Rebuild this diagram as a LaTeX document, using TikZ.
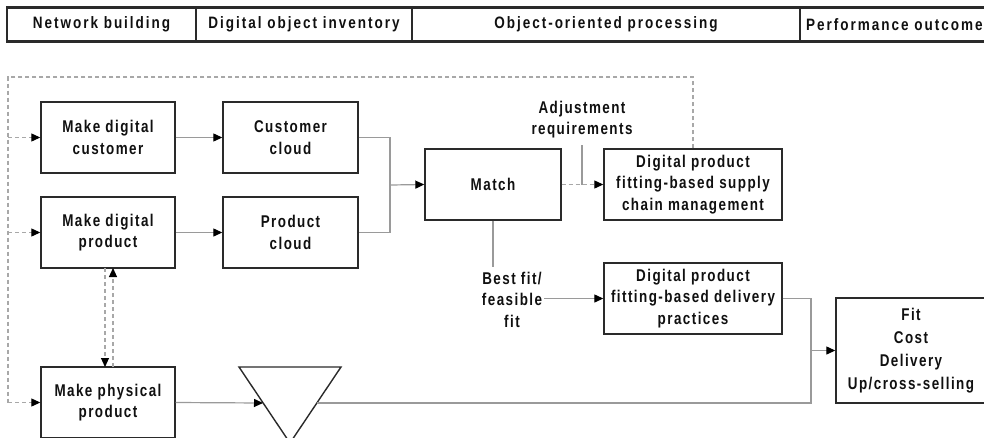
\documentclass[tikz,border=0pt]{standalone}
\usepackage{fontspec}
\newfontfamily\diag[FakeStretch=0.79,LetterSpace=8.5]{Liberation Sans}
\newfontfamily\diagh[FakeStretch=0.82,LetterSpace=12]{Liberation Sans}
\usetikzlibrary{arrows.meta}
\definecolor{boxc}{HTML}{2A2A2A}
\definecolor{connc}{HTML}{9A9A9A}
\definecolor{dashc}{HTML}{A8A8A8}
\definecolor{txtc}{HTML}{101010}
\begin{document}
\begin{tikzpicture}[x=1pt,y=-1pt,
  every node/.style={font=\diag\bfseries\fontsize{17}{21.5}\selectfont,text=txtc},
  blk/.style={draw=boxc,line width=1.4pt,align=center,inner sep=0pt,minimum width=134pt,minimum height=71pt},
  lbl/.style={align=center,inner sep=0pt},
  hlbl/.style={inner sep=0pt,font=\diagh\bfseries\fontsize{16.5}{20}\selectfont},
  conn/.style={draw=connc,line width=1.2pt},
  dsh/.style={draw=dashc,line width=1.1pt,dash pattern=on 4pt off 3pt},
  arr/.style={-{Triangle[length=9pt,width=8pt,color=black]}},
  hdr/.style={draw=boxc,line width=2.2pt},
  hdiv/.style={draw=boxc,line width=1.3pt}]
\useasboundingbox (0,0) rectangle (984,437);
% header
\draw[hdr] (990,7.5) -- (7,7.5) -- (7,41.5) -- (990,41.5);
\draw[hdiv] (196,7.5) -- (196,41.5) (412,7.5) -- (412,41.5) (800,7.5) -- (800,41.5);
\node[hlbl] (h1) at (101.5,24.5) {Network building};
\node[hlbl] (h2) at (304,24.5) {Digital object inventory};
\node[hlbl] (h3) at (606,24.5) {Object-oriented processing};
\node[hlbl,anchor=west] (h4) at (806,24.5) {Performance outcome};
% boxes
\node[blk] (mdc) at (108,137.5) {Make digital\\customer};
\node[blk,minimum width=135pt] (cc) at (290.5,137.5) {Customer\\cloud};
\node[blk] (mdp) at (108,232.5) {Make digital\\product};
\node[blk,minimum width=135pt] (pc) at (290.5,232.5) {Product\\cloud};
\node[blk,minimum width=136pt] (match) at (493,184.5) {Match};
\node[blk,minimum width=178pt] (scm) at (693,184.5) {Digital product\\fitting-based supply\\chain management};
\node[blk,minimum width=178pt] (del) at (693,298.5) {Digital product\\fitting-based delivery\\practices};
\node[blk,minimum width=150pt,minimum height=105pt] (out) at (911,350.5) {Fit\\[1.5pt]Cost\\[1.5pt]Delivery\\[1.5pt]Up/cross-selling};
\node[blk] (mpp) at (108,402.5) {Make physical\\product};
% inventory triangle
\draw[draw=boxc,line width=1.4pt] (239,367) -- (341,367) -- (290,443) -- cycle;
\coordinate (tin) at (263,403);
\coordinate (tout) at (317,403);
% labels
\node[lbl] (adj) at (582,119.5) {Adjustment\\requirements};
\node[lbl] (best) at (512,299.5) {Best fit/\\feasible\\fit};
% coordinates
\coordinate (j1) at (390,185);
\coordinate (j2) at (811,350.5);
\coordinate (adjt) at (582,145);
\coordinate (adjb) at (582,184.5);
\coordinate (bt) at (493,267);
\coordinate (fr1) at (693,77);
\coordinate (fr2) at (8,77);
\coordinate (f1) at (8,137.5);
\coordinate (f2) at (8,232.5);
\coordinate (f3) at (8,402.5);
\coordinate (d1) at (105,268);
\coordinate (d2) at (105,367);
\coordinate (u1) at (113,367);
\coordinate (u2) at (113,268);
% connectors
\draw[conn,arr] (mdc.east) -- (cc.west);
\draw[conn,arr] (mdp.east) -- (pc.west);
\draw[conn] (cc.east) -| (j1) |- (pc.east);
\draw[conn,arr] (j1) -- (match.west);
\draw[dsh,arr] (match.east) -- (scm.west);
\draw[conn] (adjt) -- (adjb);
\draw[conn] (match.south) -- (bt);
\draw[conn,arr] (best.east |- del.west) ++(2,0) -- (del.west);
\draw[conn] (del.east) -| (j2);
\draw[conn] (tout) -| (j2);
\draw[conn,arr] (j2) -- (out.west);
\draw[conn,arr] (mpp.east) -- (tin);
\draw[dsh] (scm.north) -- (fr1) -- (fr2) -- (f3);
\draw[dsh,arr] (f1) -- (mdc.west);
\draw[dsh,arr] (f2) -- (mdp.west);
\draw[dsh,arr] (f3) -- (mpp.west);
\draw[dsh,arr] (d1) -- (d2);
\draw[dsh,arr] (u1) -- (u2);
\end{tikzpicture}
\end{document}
